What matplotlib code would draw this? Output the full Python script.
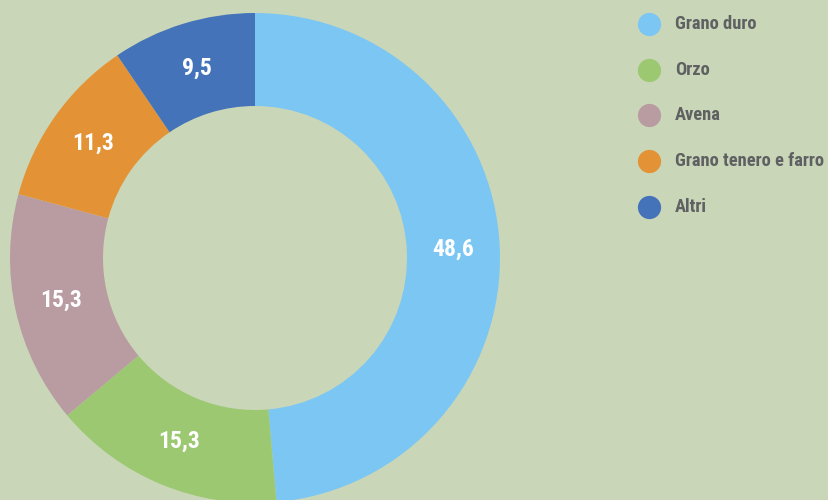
import matplotlib.pyplot as plt
from matplotlib import font_manager

categorie = ['Grano duro', 'Orzo', 'Avena', 'Grano tenero e farro', 'Altri']
valori = [48.6, 15.3, 15.3, 11.3, 9.5]
colori = ['#7cc6f3', '#9cc872', '#b99ca1', '#e39335', '#4473b9']
sfondo = '#c9d7b8'

# font condensato se disponibile
nomi = {f.name for f in font_manager.fontManager.ttflist}
preferiti = ['Roboto Condensed', 'Archivo Narrow', 'PT Sans Narrow', 'Liberation Sans Narrow',
             'Fira Sans Condensed', 'Barlow Condensed', 'IBM Plex Sans Condensed']
scelto = next((n for n in preferiti if n in nomi), None)
if scelto:
    plt.rcParams['font.family'] = [scelto, 'DejaVu Sans']
    dim_leg, dim_num = 13.3, 17
else:
    plt.rcParams['font.family'] = ['DejaVu Sans']
    dim_leg, dim_num = 9.5, 14

fig = plt.figure(figsize=(8.29, 5), dpi=100, facecolor=sfondo)
ax = fig.add_axes([0, 0, 1, 1])
ax.set_facecolor(sfondo)

# ciambella in coordinate pixel
cx, cy, r = 255, 500 - 258, 245
wedges, testi, pct = ax.pie(valori, colors=colori, startangle=90, counterclock=False,
                            center=(cx, cy), radius=r,
                            wedgeprops=dict(width=93, linewidth=0),
                            autopct=lambda p: '', pctdistance=0.81)
for t, v in zip(pct, valori):
    t.set_text(f'{v:.1f}'.replace('.', ','))
    t.set_color('white')
    t.set_fontsize(dim_num)
    t.set_fontweight('bold')

# legenda
for i, (c, nome) in enumerate(zip(colori, categorie)):
    y = 500 - (24 + i * 45.7)
    ax.scatter([649], [y], s=280, color=c, linewidths=0, zorder=3)
    ax.text(675, y, nome, color='#5f6062', fontsize=dim_leg, fontweight='bold',
            va='center', ha='left')

ax.set_xlim(0, 829)
ax.set_ylim(0, 500)
ax.set_aspect('equal')
ax.axis('off')

fig.savefig('out.png', dpi=100, facecolor=sfondo)
